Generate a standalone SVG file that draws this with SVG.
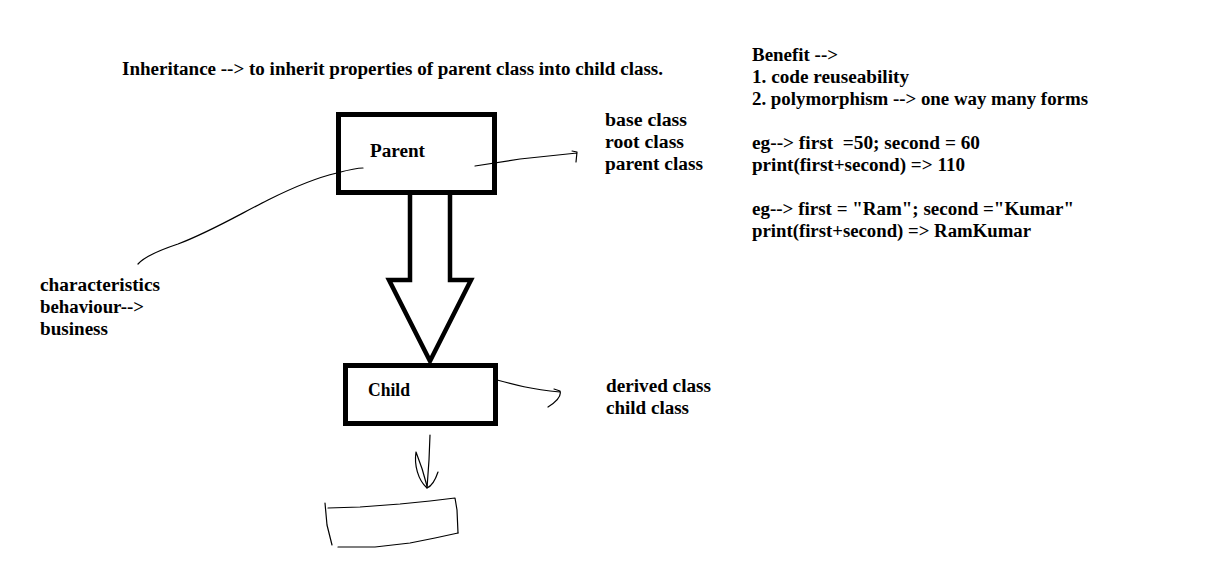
<svg xmlns="http://www.w3.org/2000/svg" width="1218" height="571" viewBox="0 0 1218 571">
<style>
text{font-family:"Liberation Serif","Times New Roman",serif;font-weight:bold;font-size:18.5px;fill:#000}
.box{fill:none;stroke:#000;stroke-width:5}
.thin{fill:none;stroke:#000;stroke-width:1.2;stroke-linecap:round;stroke-linejoin:round}
</style>
<rect width="1218" height="571" fill="#fff"/>
<text x="122" y="75" textLength="541" lengthAdjust="spacingAndGlyphs">Inheritance --&gt; to inherit properties of parent class into child class.</text>
<g id="benefit">
<text x="752" y="61" textLength="86" lengthAdjust="spacingAndGlyphs">Benefit --&gt;</text>
<text x="752" y="83" textLength="157" lengthAdjust="spacingAndGlyphs">1. code reuseability</text>
<text x="752" y="105" textLength="336" lengthAdjust="spacingAndGlyphs">2. polymorphism --&gt; one way many forms</text>
<text x="752" y="149" xml:space="preserve" textLength="228" lengthAdjust="spacingAndGlyphs">eg--&gt; first  =50; second = 60</text>
<text x="752" y="171" textLength="213" lengthAdjust="spacingAndGlyphs">print(first+second) =&gt; 110</text>
<text x="752" y="215" textLength="322" lengthAdjust="spacingAndGlyphs">eg--&gt; first = "Ram"; second ="Kumar"</text>
<text x="752" y="237" textLength="279" lengthAdjust="spacingAndGlyphs">print(first+second) =&gt; RamKumar</text>
</g>
<g id="parent">
<rect class="box" x="338.5" y="114.5" width="156" height="78"/>
<text x="370" y="157" textLength="55" lengthAdjust="spacingAndGlyphs">Parent</text>
</g>
<g id="child">
<rect class="box" x="345.5" y="365.5" width="150" height="58"/>
<text x="368" y="396" textLength="42" lengthAdjust="spacingAndGlyphs">Child</text>
</g>
<g id="parent-labels">
<text x="605" y="126" textLength="82" lengthAdjust="spacingAndGlyphs">base class</text>
<text x="605" y="148" textLength="79" lengthAdjust="spacingAndGlyphs">root class</text>
<text x="605" y="170" textLength="98" lengthAdjust="spacingAndGlyphs">parent class</text>
</g>
<g id="child-labels">
<text x="606" y="392" textLength="105" lengthAdjust="spacingAndGlyphs">derived class</text>
<text x="606" y="414" textLength="83" lengthAdjust="spacingAndGlyphs">child class</text>
</g>
<g id="traits">
<text x="40" y="291" textLength="120" lengthAdjust="spacingAndGlyphs">characteristics</text>
<text x="40" y="313" textLength="104" lengthAdjust="spacingAndGlyphs">behaviour--&gt;</text>
<text x="40" y="335" textLength="68" lengthAdjust="spacingAndGlyphs">business</text>
</g>
<g id="empty-box">
<path class="thin" d="M325,503 L327,525 L332,545"/>
<path class="thin" d="M328,508 L360,507 L400,504 L430,501 L455,498 L457,510 L458,533"/>
<path class="thin" d="M338,547 L375,547 L410,543 L435,538 L458,533"/>
</g>
<g id="connectors">
<path d="M410,195 L410,280 L389,280 L430,361 L471,280 L450,280 L450,195" fill="none" stroke="#000" stroke-width="4.5" stroke-linejoin="miter"/>
<path class="thin" d="M138,264 C145,256 160,250 178,244 C210,232 240,214 268,200 C290,189 315,178 337,173 C348,170 355,168 363,168"/>
<path class="thin" d="M475,166 L520,159 L577,153 M572,151 L577,152 L576,162"/>
<path class="thin" d="M497,380 C515,385 530,389 560,392 M554,389 L560,391 C562,397 556,402 548,407"/>
<path class="thin" d="M430,435 L429,460 L427,488"/>
<path class="thin" d="M416,452 C414,465 418,480 427,488 C432,486 436,478 438,472 M416,452 C420,462 424,474 427,486"/>
</g>
</svg>
